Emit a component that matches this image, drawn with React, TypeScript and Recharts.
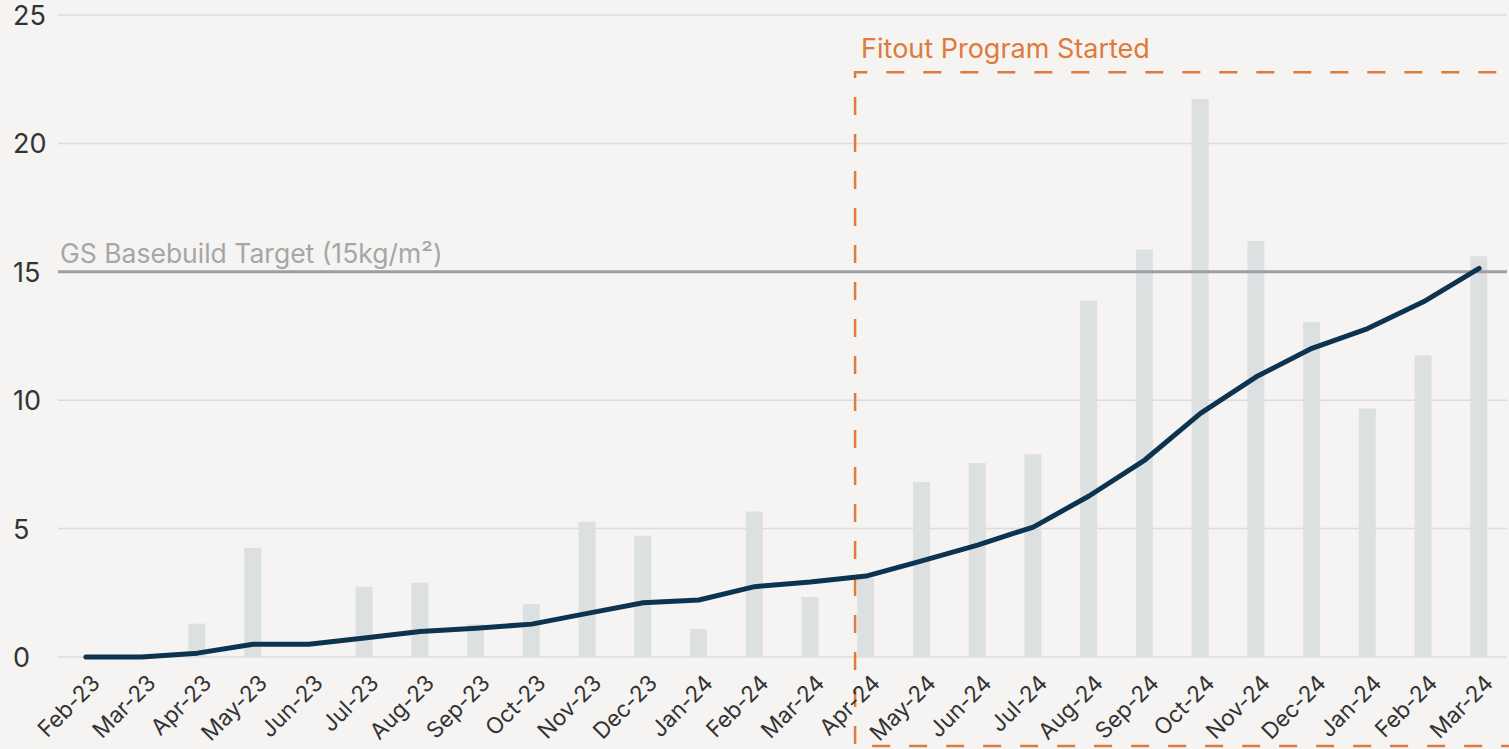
import { Bar, CartesianGrid, ComposedChart, Line, ReferenceLine, XAxis, YAxis } from "recharts";

const MONTHS = [
  "Feb-23", "Mar-23", "Apr-23", "May-23", "Jun-23", "Jul-23", "Aug-23", "Sep-23", "Oct-23",
  "Nov-23", "Dec-23", "Jan-24", "Feb-24", "Mar-24", "Apr-24", "May-24", "Jun-24", "Jul-24",
  "Aug-24", "Sep-24", "Oct-24", "Nov-24", "Dec-24", "Jan-24", "Feb-24", "Mar-24",
];

const MONTHLY = [
  0, 0, 1.3, 4.25, 0, 2.74, 2.89, 1.28, 2.06, 5.27, 4.72, 1.09, 5.67, 2.34, 3.08, 6.81, 7.55,
  7.9, 13.87, 15.87, 21.73, 16.2, 13.04, 9.68, 11.75, 15.61,
];

const CUMULATIVE = [
  0, 0, 0.15, 0.5, 0.5, 0.74, 0.99, 1.12, 1.28, 1.7, 2.11, 2.22, 2.74, 2.92, 3.15, 3.74, 4.36,
  5.06, 6.27, 7.67, 9.49, 10.91, 12.02, 12.79, 13.83, 15.13,
];

const Y_TICKS = [0, 5, 10, 15, 20, 25];
const TARGET = 15;
const FITOUT_START = 14; // Apr-24
const FITOUT_TOP = 22.77;

const FONT = "Inter, 'Noto Sans', sans-serif";
const ORANGE = "#e07a3a";

const data = MONTHS.map((m, i) => ({ idx: i, month: m, monthly: MONTHLY[i], cumulative: CUMULATIVE[i] }));

function XTick({ x, y, payload }: any) {
  const ax = x + 3;
  const ay = y + 7;
  return (
    <text
      x={ax}
      y={ay}
      transform={`rotate(-45, ${ax}, ${ay})`}
      textAnchor="end"
      dominantBaseline="hanging"
      fontFamily={FONT}
      fontSize={22.5}
      fill="#333"
    >
      {MONTHS[payload.value]}
    </text>
  );
}

function YTick({ y, payload }: any) {
  return (
    <text x={13} y={y + 10} textAnchor="start" fontFamily={FONT} fontSize={27} fill="#333">
      {payload.value}
    </text>
  );
}

// dashed box drawn from the segment's two ends (band centres of Apr-24 .. last month)
function FitoutShape({ x1, y1, x2 }: any) {
  const left = x1 - 11;
  const right = x2 + 40;
  const bottom = 746;
  return (
    <g>
      <path
        d={`M${right},${bottom} L${left},${bottom} L${left},${y1} L${right},${y1}`}
        fill="none"
        stroke={ORANGE}
        strokeWidth={2.5}
        strokeDasharray="18 19"
      />
      <text x={left + 6} y={y1 - 14} fontFamily={FONT} fontSize={27} fill={ORANGE}>
        Fitout Program Started
      </text>
    </g>
  );
}

function TargetLabel({ viewBox }: any) {
  return (
    <text x={viewBox.x + 2} y={viewBox.y - 9} fontFamily={FONT} fontSize={26.5} fill="#a6a6a6">
      GS Basebuild Target (15kg/m²)
    </text>
  );
}

export default function App() {
  return (
    <div style={{ width: 1509, height: 749, background: "#f5f4f2" }}>
      <style>{`body{margin:0;background:#f5f4f2}`}</style>
      <ComposedChart width={1509} height={749} data={data} margin={{ top: 15, right: 2, bottom: 0, left: 0 }}>
        <CartesianGrid vertical={false} stroke="#dddcda" strokeWidth={1.5} />
        <XAxis dataKey="idx" type="category" interval={0} axisLine={false} tickLine={false} height={92} tick={<XTick />} />
        <YAxis domain={[0, 25]} ticks={Y_TICKS} width={58} axisLine={false} tickLine={false} tick={<YTick />} />
        <Bar dataKey="monthly" fill="#dde0e1" barSize={17} isAnimationActive={false} />
        <ReferenceLine y={TARGET} stroke="#9d9fa2" strokeWidth={3} label={<TargetLabel />} />
        <ReferenceLine
          segment={[
            { x: FITOUT_START, y: FITOUT_TOP },
            { x: MONTHS.length - 1, y: FITOUT_TOP },
          ]}
          shape={<FitoutShape />}
        />
        <Line
          dataKey="cumulative"
          type="linear"
          stroke="#0c3450"
          strokeWidth={5}
          strokeLinejoin="round"
          strokeLinecap="round"
          dot={false}
          activeDot={false}
          isAnimationActive={false}
        />
      </ComposedChart>
    </div>
  );
}
